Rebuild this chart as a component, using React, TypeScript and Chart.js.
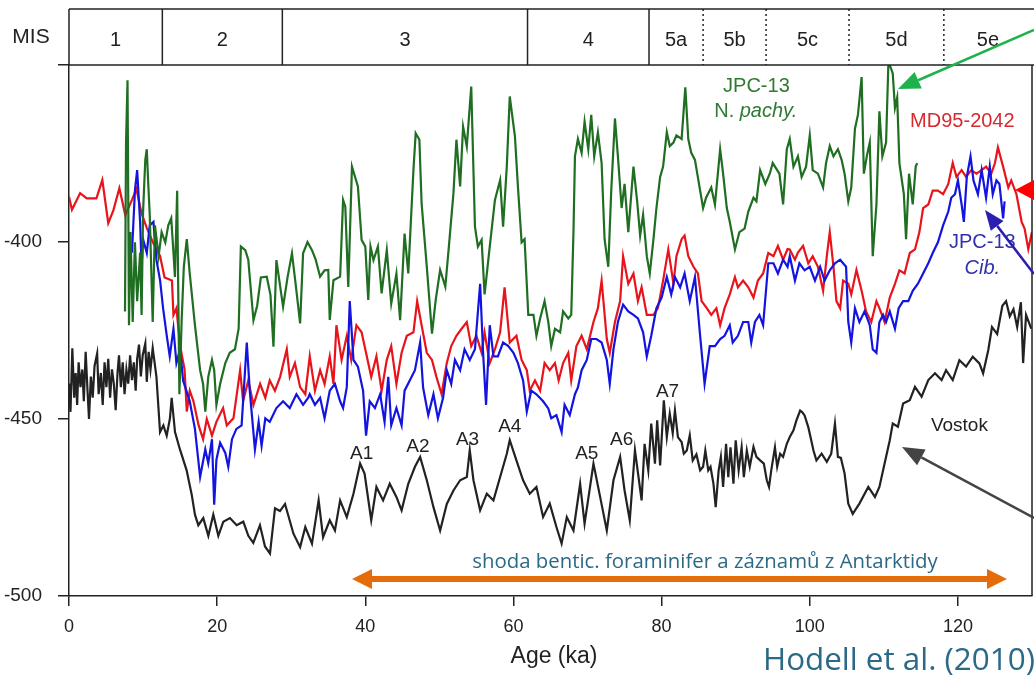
import React, { useEffect, useRef } from 'react';
import { Chart, registerables } from 'chart.js';
Chart.register(...registerables);

// ---- data (age in ka, value) ----
const vostok: [number, number][] = [
  [0,-440],[0.2,-448],[0.45,-430],[0.7,-444],[0.9,-437],[1.1,-446],[1.3,-434],[1.55,-441],[1.8,-436],[2,-445],
  [2.25,-431],[2.5,-442],[2.7,-450],[2.95,-438],[3.2,-444],[3.45,-435],[3.8,-431.5],[4,-443],[4.3,-437],[4.55,-446],
  [4.8,-434],[5.05,-441],[5.3,-433],[5.55,-444],[5.8,-436],[6.05,-440],[6.3,-447.5],[6.55,-437],[6.75,-432],[7,-441],
  [7.25,-434],[7.5,-443],[7.75,-436],[8,-440],[8.25,-432],[8.5,-439],[8.75,-434],[9,-442],[9.2,-433],[9.45,-429],
  [9.7,-438],[9.95,-432],[10.3,-428.7],[10.5,-439.5],[10.75,-431],[11,-436],[11.3,-430],[11.8,-438],
  [12.29,-453.7],[12.74,-451.8],[13.19,-454.7],[13.63,-449.8],[13.86,-444],[14.31,-453.7],[14.98,-458.6],[15.88,-464.5],[16.56,-471.3],[17.01,-477.1],
  [17.46,-480],[18.13,-478],[18.81,-483],[19.48,-477],[20.16,-483],[20.83,-479],[21.73,-478],[22.63,-480],[23.53,-479],[24.21,-483],
  [24.88,-485],[25.78,-480],[26.46,-486],[27.13,-488],[27.81,-475.2],[28.48,-476],[29.16,-474],[30.3,-482.4],[31.2,-486.2],[31.9,-480.5],
  [32.8,-485.2],[33.7,-473],[34.3,-483.4],[35.2,-478.6],[35.9,-481.5],[36.6,-473],[37.5,-477.7],[38.4,-471.1],[39.3,-462.6],[39.9,-465.4],
  [40.8,-478.6],[41.5,-469.2],[42.4,-473],[43.3,-468.3],[44.2,-472],[44.9,-475.8],[45.8,-468.3],[46.7,-463.5],[47.4,-460.7],[48.3,-467.3],
  [49.2,-474.9],[50.1,-481.5],[51,-474],[51.9,-470.2],[52.8,-467.3],[53.7,-466.4],[54.1,-458.8],[54.6,-467.3],[55.5,-475.8],[56.4,-471.1],
  [57.3,-473],[58.2,-466.4],[59.1,-459.8],[59.5,-456],[60.4,-461.7],[61.3,-467.3],[62.2,-471.1],[63.1,-469.2],[64,-477.7],[64.9,-473.9],
  [65.8,-480.5],[66.5,-485.2],[67.2,-477.7],[68.1,-481.5],[69,-468.3],[69.6,-479.6],[70.8,-462.6],[71.7,-472],[72.6,-481.5],[73.5,-467.3],
  [74.4,-460.7],[75,-470.2],[75.7,-478.6],[76.4,-458.8],[77.3,-473],[77.7,-457],[78.2,-464.5],[78.6,-451.3],[79.1,-462.6],[79.4,-450.4],
  [79.8,-463.1],[80.3,-444.7],[80.7,-455.1],[81.1,-448.5],[81.5,-454],[81.8,-447.6],[82.2,-455.1],[82.7,-456.5],[83,-459.8],[83.4,-458.9],
  [83.8,-454.6],[84.2,-461.7],[84.7,-460],[85.2,-464.5],[85.6,-463.5],[85.9,-458.9],[86.3,-464.5],[86.6,-463.5],[87,-468.3],[87.3,-474.9],
  [87.7,-464.5],[88,-460.7],[88.3,-469.2],[88.7,-457],[89,-466.4],[89.3,-458],[89.7,-468.3],[90,-456],[90.4,-464.5],[90.8,-458],
  [91.1,-466.4],[91.5,-458.9],[91.9,-463.5],[92.4,-457.9],[92.8,-460.7],[93.3,-461.7],[93.8,-462.6],[94.2,-467.3],[94.5,-469.2],[94.8,-464.5],
  [95.3,-458],[95.6,-463.5],[96,-459.8],[96.4,-460.7],[96.9,-457],[97.3,-455.1],[97.8,-453.2],[98.2,-450.4],[98.7,-447.6],[99,-448.1],
  [99.3,-449],[99.8,-452.3],[100.1,-455.1],[100.5,-458.9],[100.9,-461.7],[101.6,-459.8],[102.3,-462.1],[102.9,-459.8],[103.4,-451.3],[103.8,-460.7],
  [104.2,-461],[104.7,-465.4],[105.2,-473.9],[105.8,-476.8],[106.7,-473.9],[107.9,-469.2],[108.8,-472],[109.4,-469.2],[110.1,-462.6],[110.8,-456],
  [111.2,-451.3],[111.9,-452.2],[112.6,-445.6],[113.5,-444.7],[114.2,-440.9],[115.1,-443.7],[116,-439],[116.9,-437.1],[117.8,-439],[118.4,-436.2],
  [119.3,-439],[120.2,-433.4],[121.1,-435.2],[122,-432.4],[122.9,-434.3],[123.4,-437.1],[124.1,-430.5],[124.6,-424],[125.3,-426],[126,-418],
  [126.5,-416.7],[127,-421],[127.5,-419],[128,-424],[128.5,-417],[128.8,-434.2],[129.2,-420.6],[129.9,-424.5]
];

const md95: [number, number][] = [
  [0,-387.2],[0.4,-390.9],[1.5,-386.2],[2.4,-387.7],[3.7,-387.7],[4.5,-382.5],[5.3,-394.7],[6,-391],[6.8,-384.8],[7.6,-392.4],
  [8.5,-388.1],[9.1,-385],[9.8,-392],[10.5,-396],[11.3,-400],[12.3,-404],[12.9,-410],[13.9,-410.9],[14.1,-420.6],[14.5,-418.7],
  [15,-429.4],[15.6,-436],[15.9,-447.9],[16.3,-442],[16.8,-445],[17.5,-451.8],[18.1,-455.7],[18.6,-450],[19.3,-454.7],[19.9,-450.8],
  [20.8,-446.9],[21.3,-451.8],[22.2,-449.8],[23.1,-436.2],[23.5,-445],[24.2,-439.1],[24.9,-446],[25.8,-440.1],[26.5,-444],[27.1,-439.1],
  [27.8,-442],[28.5,-438.1],[29.4,-430.3],[29.8,-438.1],[30.5,-434.2],[31.2,-441],[31.9,-443],[32.5,-432.3],[33.2,-442],[33.9,-436.2],
  [34.5,-440.1],[35.2,-432.3],[35.7,-440.1],[36.1,-423.5],[36.8,-433.3],[37.5,-426.5],[38.1,-433.3],[38.8,-423.5],[39.5,-425.5],[40.2,-432.3],
  [40.8,-438.1],[41.5,-432.3],[42.2,-442],[42.9,-433.3],[43.5,-429.4],[44.2,-440.1],[44.9,-431.3],[45.6,-426.5],[46.5,-425.5],[47,-416.7],
  [47.6,-423.5],[48.3,-431.3],[49,-433.3],[49.6,-438.1],[50.3,-443],[51,-434.2],[51.6,-429.4],[52.3,-426.5],[53,-424.5],[53.7,-422.6],
  [54.3,-429.4],[55,-426.5],[55.7,-431.3],[56.1,-425.5],[56.8,-434.2],[57.5,-430.3],[58.2,-425.5],[58.8,-412.8],[59.5,-428.4],[60.4,-426.5],
  [61.1,-433.3],[61.8,-436.2],[62.2,-442],[62.9,-439.1],[63.6,-442],[64.2,-434.2],[64.9,-436.2],[65.6,-434.2],[66.1,-439.1],[66.7,-434.2],
  [67.4,-431.3],[67.8,-439.1],[68.5,-429.4],[69.2,-426.5],[69.9,-430.3],[70.8,-422.6],[71.4,-418.7],[71.9,-410.9],[72.6,-427.4],[73,-431.3],
  [73.7,-422.6],[74.4,-416.7],[74.8,-404],[75.5,-411.8],[76.2,-408.9],[76.8,-416.7],[77.3,-412.8],[78,-420.6],[78.9,-420.6],[79.5,-418.7],
  [80.2,-410.9],[80.9,-402.1],[81.6,-411.8],[82,-404],[82.7,-399.2],[83.1,-398.2],[83.6,-404],[84.3,-407],[84.9,-408.9],[85.4,-416.7],
  [86.1,-418.7],[86.7,-420.6],[87.4,-418.7],[87.9,-423.5],[88.5,-418.7],[89.2,-414.8],[89.9,-409.9],[90.3,-412.8],[91,-410.9],[91.7,-412.8],
  [92.4,-415.7],[93,-410.9],[93.7,-408.9],[94.4,-403.1],[95.1,-404],[95.7,-401.1],[96.4,-405],[97,-402],[97.3,-402.1],[98,-405],
  [98.4,-403],[99.1,-401.1],[99.8,-406],[100.4,-404],[101.1,-407],[101.8,-413.8],[102.3,-404],[102.7,-397.2],[103.2,-407],[103.6,-416.7],
  [104.1,-418.7],[104.5,-410.9],[105.2,-411.8],[105.6,-414.8],[106.3,-407.9],[107,-413.8],[107.6,-419.6],[108.3,-422.6],[109,-416.7],[109.4,-418.7],
  [110.1,-422.6],[110.8,-415.7],[111.5,-411.8],[112.1,-408],[112.8,-408.9],[113.5,-403.1],[114.2,-402.1],[114.8,-397.2],[115.3,-390.4],[116,-389.4],
  [116.6,-385.5],[117.3,-385.5],[118,-386.5],[118.7,-383.6],[119.3,-377.7],[119.8,-381.6],[120.5,-379.7],[121.1,-381.6],[121.8,-379.7],[122.5,-380.7],
  [123.2,-379.7],[123.8,-378.7],[124.5,-380.7],[125,-377.7],[125.4,-373.3],[126.1,-378.7],[126.8,-384.6],[127.2,-382.6],[127.9,-386.5],[128.6,-394.3],
  [129,-396.2],[129.5,-402],[130,-397.2]
];

const jpcCib: [number, number][] = [
  [8.5,-403],[8.9,-385.5],[9.2,-379.7],[9.6,-394.3],[9.8,-407],[10,-399.2],[10.5,-403.1],[10.9,-395.3],[11.4,-394.3],[11.8,-405],
  [12.3,-410.9],[12.7,-418.7],[13.2,-426.5],[13.6,-432.3],[14.1,-424.5],[14.5,-434.2],[15,-430.3],[15.4,-439.1],[16.3,-445],[17,-452.8],
  [17.7,-466.4],[18.4,-458.6],[18.8,-462.5],[19.3,-455.7],[19.6,-474.2],[19.9,-461.5],[20.4,-456.7],[21.1,-459.6],[21.5,-463.5],[22,-455.7],
  [22.6,-452.8],[23.3,-451.8],[24,-428.4],[24.4,-442],[25.1,-458.6],[25.6,-450.8],[26,-457.6],[26.5,-449.8],[27.1,-450.8],[28,-446.9],
  [28.9,-445],[29.8,-446.9],[30.7,-443],[31.6,-446],[32.3,-444],[32.5,-443],[33.2,-446],[33.9,-444],[34.5,-449.8],[35.2,-442],
  [35.9,-440.1],[36.6,-445],[37,-446.9],[37.5,-441],[37.9,-416.7],[38.4,-433.3],[39,-435.2],[39.7,-442],[40.1,-454.7],[40.6,-445],
  [41.3,-446.9],[42,-443],[42.6,-450.8],[43.1,-438.1],[43.5,-451.8],[44.2,-446.9],[44.9,-451.8],[45.3,-442],[46,-439.1],[46.7,-436.2],
  [47.4,-428.4],[47.8,-441.1],[48.5,-448.9],[49.2,-443],[49.8,-449.8],[50.5,-444],[51,-436.2],[51.6,-440.1],[52.1,-433.3],[52.8,-436.2],
  [53.4,-430.3],[54.1,-433.3],[54.8,-430.3],[55.5,-411.8],[55.9,-431.3],[56.3,-446],[56.8,-423.5],[57.3,-432.3],[57.9,-432.3],[58.6,-428.4],
  [59.3,-429.4],[60,-431.3],[60.6,-434.2],[61.3,-439.1],[61.8,-447.9],[62.4,-442],[63.1,-443],[64,-445],[64.7,-447],[65.1,-449.8],
  [65.8,-448.9],[66.5,-453.7],[66.9,-446],[67.6,-448.9],[68.3,-443],[68.7,-441.1],[69.2,-436.2],[69.9,-433.3],[70.5,-427.4],[71.2,-427.4],
  [71.9,-428.4],[72.6,-433.3],[73,-440.1],[73.5,-430.3],[74.1,-422.6],[74.8,-417.7],[75.5,-419.6],[76.2,-420.6],[76.8,-421.6],[77.5,-425.5],
  [78,-432.3],[78.6,-426.5],[79.3,-418.7],[80,-415.7],[80.7,-409.9],[81.3,-414.8],[81.8,-409.9],[82.5,-412.8],[83.1,-408.9],[83.8,-416.7],
  [84.5,-409.9],[85.2,-426.5],[85.8,-440.1],[86.5,-429.4],[87.2,-429.4],[87.9,-427.4],[88.5,-426.5],[89.2,-423.5],[89.6,-428.4],[90.3,-426.5],
  [91,-422.6],[91.7,-422.6],[92.1,-428.4],[92.6,-422.6],[93.2,-420.6],[93.7,-423.5],[94.4,-406],[95.1,-406],[95.7,-408.9],[96.4,-405],
  [97,-407],[97.3,-404],[98,-410.9],[98.6,-406],[99.3,-408],[100,-407],[100.7,-410.9],[101.4,-407],[102,-410.9],[102.7,-408],
  [103.4,-406],[104.1,-405],[104.9,-407],[105.2,-422.6],[105.6,-428.4],[106.1,-418.7],[106.7,-422.6],[107.4,-419.6],[108.1,-423.5],[108.5,-430.3],
  [109,-431.3],[109.4,-422.6],[109.9,-420.6],[110.3,-422.6],[110.8,-419.6],[111.5,-424.5],[112,-418.7],[112.6,-416.7],[113.3,-416.7],[113.9,-413.8],
  [114.6,-411.8],[115.3,-408.9],[116,-406],[116.6,-403.1],[117.3,-400.1],[118,-395.3],[118.7,-391.4],[119.1,-387.5],[119.6,-386.5],[120,-382.6],
  [120.5,-389.4],[120.8,-394.3],[121.2,-381.6],[121.7,-375.8],[122.1,-382.6],[122.7,-386.5],[123.2,-379.7],[123.8,-387.5],[124.3,-378.7],[124.7,-386.5],
  [125.2,-382.6],[125.6,-383.6],[126.1,-393.3],[126.3,-388.5]
];

const jpcPachy: [number, number][] = [
  [7.56,-419.6],[7.7,-371.9],[7.9,-354.3],[8.1,-423.5],[8.3,-397.2],[8.6,-422.6],[8.9,-400.1],[9.2,-416.7],[9.6,-403],[9.8,-420.6],
  [10,-391.4],[10.3,-376.8],[10.5,-373.8],[10.7,-383.6],[10.9,-392.3],[11.3,-422.6],[11.6,-395.3],[12.1,-404],[12.5,-397.2],[13,-400.1],
  [13.4,-395.3],[13.8,-393.3],[14.1,-403],[14.3,-409.9],[14.6,-385.5],[14.9,-443],[15.2,-422.6],[15.5,-407],[15.9,-399.2],[16.3,-408.9],
  [17,-423.5],[17.7,-436.2],[18.1,-440.1],[18.4,-447.9],[18.8,-438.1],[19.3,-433.3],[19.6,-436.2],[19.9,-446],[20.4,-440.1],[21.1,-434.2],
  [21.7,-431.3],[22.4,-430.3],[22.9,-424.5],[23.2,-401.3],[23.8,-402.3],[24.2,-405],[24.9,-422.1],[25.4,-418],[25.9,-410],[26.7,-409.8],
  [27.2,-415],[27.6,-429.6],[28,-405.1],[28.9,-418.3],[29.5,-410],[30.1,-403.2],[30.6,-412],[31.2,-423],[31.6,-403.2],[32.2,-400],
  [32.8,-402.3],[33.3,-405],[33.9,-409.8],[34.5,-408],[35,-407.9],[35.2,-422],[35.7,-410.8],[36.6,-409.8],[37,-388.1],[37.3,-390],
  [37.7,-412.7],[38.2,-378.7],[38.6,-381.5],[39,-384.3],[39.5,-399.4],[40,-401.3],[40.4,-416.4],[40.7,-401.3],[41.1,-405.1],[41.7,-401.3],
  [42.2,-414.5],[42.9,-402.3],[43.5,-417.4],[44.2,-408.9],[44.7,-422.1],[45.3,-397.6],[45.8,-408.9],[46.5,-379.6],[46.8,-369.3],[47.3,-371.1],
  [47.6,-389.1],[48.3,-407],[49,-425.9],[49.5,-416.4],[50.1,-407.9],[50.8,-412.6],[51.2,-403.2],[51.9,-386.2],[52.3,-371.1],[52.8,-384.3],
  [53.2,-367.4],[53.7,-373],[54.3,-356.1],[54.8,-395.7],[55.2,-401.3],[55.7,-399.4],[56.1,-414.8],[56.8,-401.3],[57.5,-388.1],[58.2,-382.5],
  [58.6,-395.7],[59.1,-378.7],[59.5,-358.9],[60.2,-370.2],[60.6,-384.3],[61.1,-400.1],[61.5,-399.2],[62,-420.6],[62.7,-420.6],[63.1,-426.5],
  [63.6,-421.6],[64.2,-416.7],[64.7,-422.6],[65.1,-429.4],[65.6,-424.5],[66.3,-425.5],[66.7,-419.6],[67.4,-421.6],[67.8,-420.6],[68.1,-397.2],
  [68.3,-375.8],[68.7,-370.9],[69.2,-374.8],[69.6,-366],[70.1,-373.8],[70.5,-364.1],[70.9,-375.8],[71.4,-369],[71.9,-377.7],[72.3,-399.2],
  [72.8,-407],[73.2,-385.5],[73.7,-365.1],[74.1,-375.8],[74.6,-390.4],[75,-383.6],[75.5,-397.2],[76.2,-378.7],[76.7,-388.5],[77.1,-398.2],
  [77.5,-392.3],[78,-404],[78.4,-408.9],[78.9,-399.2],[79.3,-390.4],[79.8,-381.6],[80.2,-378.7],[80.7,-369],[81.1,-372.9],[81.6,-371.9],
  [82,-369.9],[82.7,-370.9],[83.2,-356.3],[83.6,-370.9],[84,-374.8],[84.5,-376.8],[85.2,-385.5],[85.6,-390.4],[86,-387.5],[86.7,-384.6],
  [87.2,-389.4],[87.9,-373.8],[88.3,-380.7],[88.8,-390.4],[89.2,-394.3],[89.9,-402.1],[90.5,-397.2],[91.2,-396.2],[91.7,-391.4],[92.4,-387.5],
  [92.8,-388.5],[93.3,-379.7],[94,-383.6],[94.6,-380.7],[95,-377.7],[95.9,-380.7],[96.4,-389.4],[96.9,-373.8],[97.3,-370.9],[97.8,-378.7],
  [98.4,-375.8],[98.9,-381.6],[99.5,-378.7],[100,-369.9],[100.4,-379.7],[101.1,-380.7],[101.8,-384.6],[102.2,-377.7],[102.7,-372.9],[103.2,-375.8],
  [103.8,-373.8],[104.3,-376.8],[104.7,-380.7],[105.2,-388.5],[105.6,-384.6],[106.1,-368],[106.5,-364.1],[107,-353.4],[107.3,-380.7],[107.7,-375.8],
  [108.1,-371.9],[108.5,-404],[109,-389.4],[109.4,-363.1],[109.8,-375.8],[110.3,-371.9],[110.6,-350.4],[110.8,-350],[111.2,-352.4],[111.5,-362.1],
  [111.8,-359.2],[112.1,-377.7],[112.7,-386.5],[113,-399.2],[113.4,-380.7],[113.9,-389.4],[114.3,-378.7],[114.5,-377.7]
];

// axes / stage boundaries / annotation anchors
const xTicks = [0, 20, 40, 60, 80, 100, 120];
const yTicks = [-500, -450, -400, -350];
const misBounds = [12.6, 28.8, 61.9, 78.3, 85.6, 94.1, 105.3, 118.1];
const misDotted = [false, false, false, false, true, true, true, true];
const misLabels = ['1', '2', '3', '4', '5a', '5b', '5c', '5d', '5e'];
const peakLabels = ['A1', 'A2', 'A3', 'A4', 'A5', 'A6', 'A7'];
const peakAge = [39.5, 47.1, 53.8, 59.5, 69.9, 74.6, 80.8];
const peakVal = [-459.7, -457.9, -455.9, -452.2, -459.7, -455.9, -442.4];

const FONT = "'Liberation Sans', Arial, sans-serif";
const NOTE_FONT = "'Open Sans', 'Noto Sans', sans-serif";

function arrow(ctx: CanvasRenderingContext2D, x1: number, y1: number, x2: number, y2: number, color: string, lw: number, hl: number, hw: number) {
  const ang = Math.atan2(y2 - y1, x2 - x1);
  const bx = x2 - hl * Math.cos(ang);
  const by = y2 - hl * Math.sin(ang);
  ctx.strokeStyle = color;
  ctx.lineWidth = lw;
  ctx.beginPath();
  ctx.moveTo(x1, y1);
  ctx.lineTo(bx, by);
  ctx.stroke();
  ctx.fillStyle = color;
  ctx.beginPath();
  ctx.moveTo(x2, y2);
  ctx.lineTo(bx + hw * Math.sin(ang), by - hw * Math.cos(ang));
  ctx.lineTo(bx - hw * Math.sin(ang), by + hw * Math.cos(ang));
  ctx.closePath();
  ctx.fill();
}

function fitFont(ctx: CanvasRenderingContext2D, text: string, width: number, family: string, style = '') {
  ctx.font = `${style} 20px ${family}`;
  const w = ctx.measureText(text).width;
  const size = (20 * width) / w;
  ctx.font = `${style} ${size}px ${family}`;
  return size;
}

const overlay = {
  id: 'overlay',
  afterDatasetsDraw(chart: any) {
    const { ctx, chartArea: a, scales } = chart;
    const x = scales.x, y = scales.y;
    const px = (v: number) => x.getPixelForValue(v);
    const py = (v: number) => y.getPixelForValue(v);
    ctx.save();

    // frame (top & right)
    ctx.strokeStyle = '#222';
    ctx.lineWidth = 1.5;
    ctx.beginPath();
    ctx.moveTo(a.left, a.top);
    ctx.lineTo(1034, a.top);
    ctx.moveTo(a.right, a.top);
    ctx.lineTo(a.right, a.bottom);
    ctx.stroke();

    // MIS header
    const hTop = 9;
    ctx.beginPath();
    ctx.moveTo(a.left, hTop);
    ctx.lineTo(1034, hTop);
    ctx.moveTo(a.left, hTop);
    ctx.lineTo(a.left, a.top);
    ctx.stroke();
    misBounds.forEach((b, i) => {
      ctx.save();
      if (misDotted[i]) { ctx.setLineDash([2, 3]); ctx.lineWidth = 1.5; }
      ctx.beginPath();
      ctx.moveTo(px(b), hTop);
      ctx.lineTo(px(b), a.top);
      ctx.stroke();
      ctx.restore();
    });
    const edges = [0, ...misBounds, 130];
    ctx.fillStyle = '#222';
    ctx.textAlign = 'center';
    ctx.textBaseline = 'middle';
    ctx.font = `20px ${FONT}`;
    misLabels.forEach((t, i) => {
      ctx.fillText(t, (px(edges[i]) + px(edges[i + 1])) / 2, 40);
    });
    ctx.font = `21px ${FONT}`;
    ctx.fillText('MIS', 31, 37);

    // axis title
    ctx.font = `23px ${FONT}`;
    ctx.fillText('Age (ka)', 554, 657);

    // peak labels
    ctx.font = `19px ${FONT}`;
    ctx.fillStyle = '#222';
    peakLabels.forEach((t, i) => ctx.fillText(t, px(peakAge[i]), py(peakVal[i])));
    ctx.fillText('Vostok', px(120.2), py(-451.8));

    // series labels
    ctx.fillStyle = '#d42a30';
    ctx.font = `20px ${FONT}`;
    ctx.fillText('MD95-2042', px(120.6), py(-366));
    ctx.fillStyle = '#2f7a32';
    ctx.fillText('JPC-13', px(92.8), py(-356.1));
    {
      ctx.font = `20px ${FONT}`;
      const w1 = ctx.measureText('N. ').width;
      ctx.font = `italic 20px ${FONT}`;
      const w2 = ctx.measureText('pachy.').width;
      const cx = px(92.7), cy = py(-363.2);
      const left = cx - (w1 + w2) / 2;
      ctx.textAlign = 'left';
      ctx.font = `20px ${FONT}`;
      ctx.fillText('N. ', left, cy);
      ctx.font = `italic 20px ${FONT}`;
      ctx.fillText('pachy.', left + w1, cy);
      ctx.textAlign = 'center';
    }
    ctx.fillStyle = '#3030b0';
    ctx.font = `20px ${FONT}`;
    ctx.fillText('JPC-13', px(123.3), py(-400.2));
    ctx.font = `italic 20px ${FONT}`;
    ctx.fillText('Cib.', px(123.3), py(-407.4));

    // pointer arrows
    arrow(ctx, 1034, 30, 898, 89, '#1fb24c', 2.5, 22, 9);
    arrow(ctx, 1045, 190, 1015, 190, '#ff0000', 2.5, 19, 10);
    arrow(ctx, 1034, 274, 985, 210, '#2a1fb0', 2.5, 20, 8);
    arrow(ctx, 1034, 518, 902, 447, '#444', 2.5, 22, 9);

    // orange range arrow
    const oy = 579;
    ctx.strokeStyle = '#e46c0a';
    ctx.lineWidth = 6;
    ctx.beginPath();
    ctx.moveTo(370, oy);
    ctx.lineTo(990, oy);
    ctx.stroke();
    ctx.fillStyle = '#e46c0a';
    ctx.beginPath();
    ctx.moveTo(352, oy); ctx.lineTo(372, oy - 10); ctx.lineTo(372, oy + 10); ctx.closePath(); ctx.fill();
    ctx.beginPath();
    ctx.moveTo(1007, oy); ctx.lineTo(987, oy - 10); ctx.lineTo(987, oy + 10); ctx.closePath(); ctx.fill();

    // notes
    ctx.fillStyle = '#2b6a86';
    ctx.textBaseline = 'alphabetic';
    const note = 'shoda bentic. foraminifer a záznamů z Antarktidy';
    fitFont(ctx, note, 466, NOTE_FONT);
    ctx.textAlign = 'center';
    ctx.fillText(note, 705, 568);
    const cite = 'Hodell et al. (2010)';
    fitFont(ctx, cite, 272, NOTE_FONT);
    ctx.textAlign = 'left';
    ctx.fillText(cite, 763, 670);

    ctx.restore();
  },
};

export default function App() {
  const ref = useRef<HTMLCanvasElement | null>(null);
  useEffect(() => {
    if (!ref.current) return;
    const toPts = (arr: [number, number][]) => arr.map(([x, y]) => ({ x, y }));
    const ds = (label: string, arr: [number, number][], color: string, order: number, lw = 2) => ({
      label,
      data: toPts(arr),
      borderColor: color,
      backgroundColor: color,
      borderWidth: lw,
      pointRadius: 0,
      tension: 0,
      fill: false,
      order,
    });
    const chart = new Chart(ref.current, {
      type: 'line',
      data: {
        datasets: [
          ds('Vostok', vostok, '#222222', 1, 2.2),
          ds('JPC-13 N. pachy.', jpcPachy, '#1f6e22', 2, 2.2),
          ds('JPC-13 Cib.', jpcCib, '#1414e0', 3, 2.2),
          ds('MD95-2042', md95, '#e8141c', 4, 2.2),
        ],
      },
      options: {
        animation: false,
        responsive: false,
        maintainAspectRatio: false,
        parsing: false as any,
        normalized: true,
        layout: { padding: { top: 65, right: 2, left: 0, bottom: 0 } },
        plugins: { legend: { display: false }, tooltip: { enabled: false } },
        scales: {
          x: {
            type: 'linear',
            min: 0,
            max: 130,
            afterBuildTicks: (s: any) => { s.ticks = xTicks.map((v) => ({ value: v })); },
            afterFit: (s: any) => { s.height = 81; },
            ticks: { color: '#222', font: { size: 18, family: FONT }, padding: 10, maxRotation: 0, autoSkip: false, includeBounds: false },
            grid: { display: true, drawOnChartArea: false, drawTicks: true, tickLength: 10, color: '#222', lineWidth: 1.5 },
            border: { display: true, color: '#222', width: 1.5 },
          },
          y: {
            type: 'linear',
            min: -500,
            max: -350,
            afterBuildTicks: (s: any) => { s.ticks = yTicks.map((v) => ({ value: v })); },
            afterFit: (s: any) => { s.width = 69; },
            ticks: {
              color: '#222',
              font: { size: 19, family: FONT },
              padding: 16,
              autoSkip: false,
              callback: (v: any) => (v === -350 ? '' : String(v)),
            },
            grid: { display: true, drawOnChartArea: false, drawTicks: true, tickLength: 11, color: '#222', lineWidth: 1.5 },
            border: { display: true, color: '#222', width: 1.5 },
          },
        },
      },
      plugins: [overlay],
    });
    return () => chart.destroy();
  }, []);
  return (
    <div style={{ position: 'fixed', left: 0, top: 0, width: 1034, height: 677, background: '#fff' }}>
      <canvas ref={ref} width={1034} height={677} style={{ display: 'block', width: 1034, height: 677 }} />
    </div>
  );
}
